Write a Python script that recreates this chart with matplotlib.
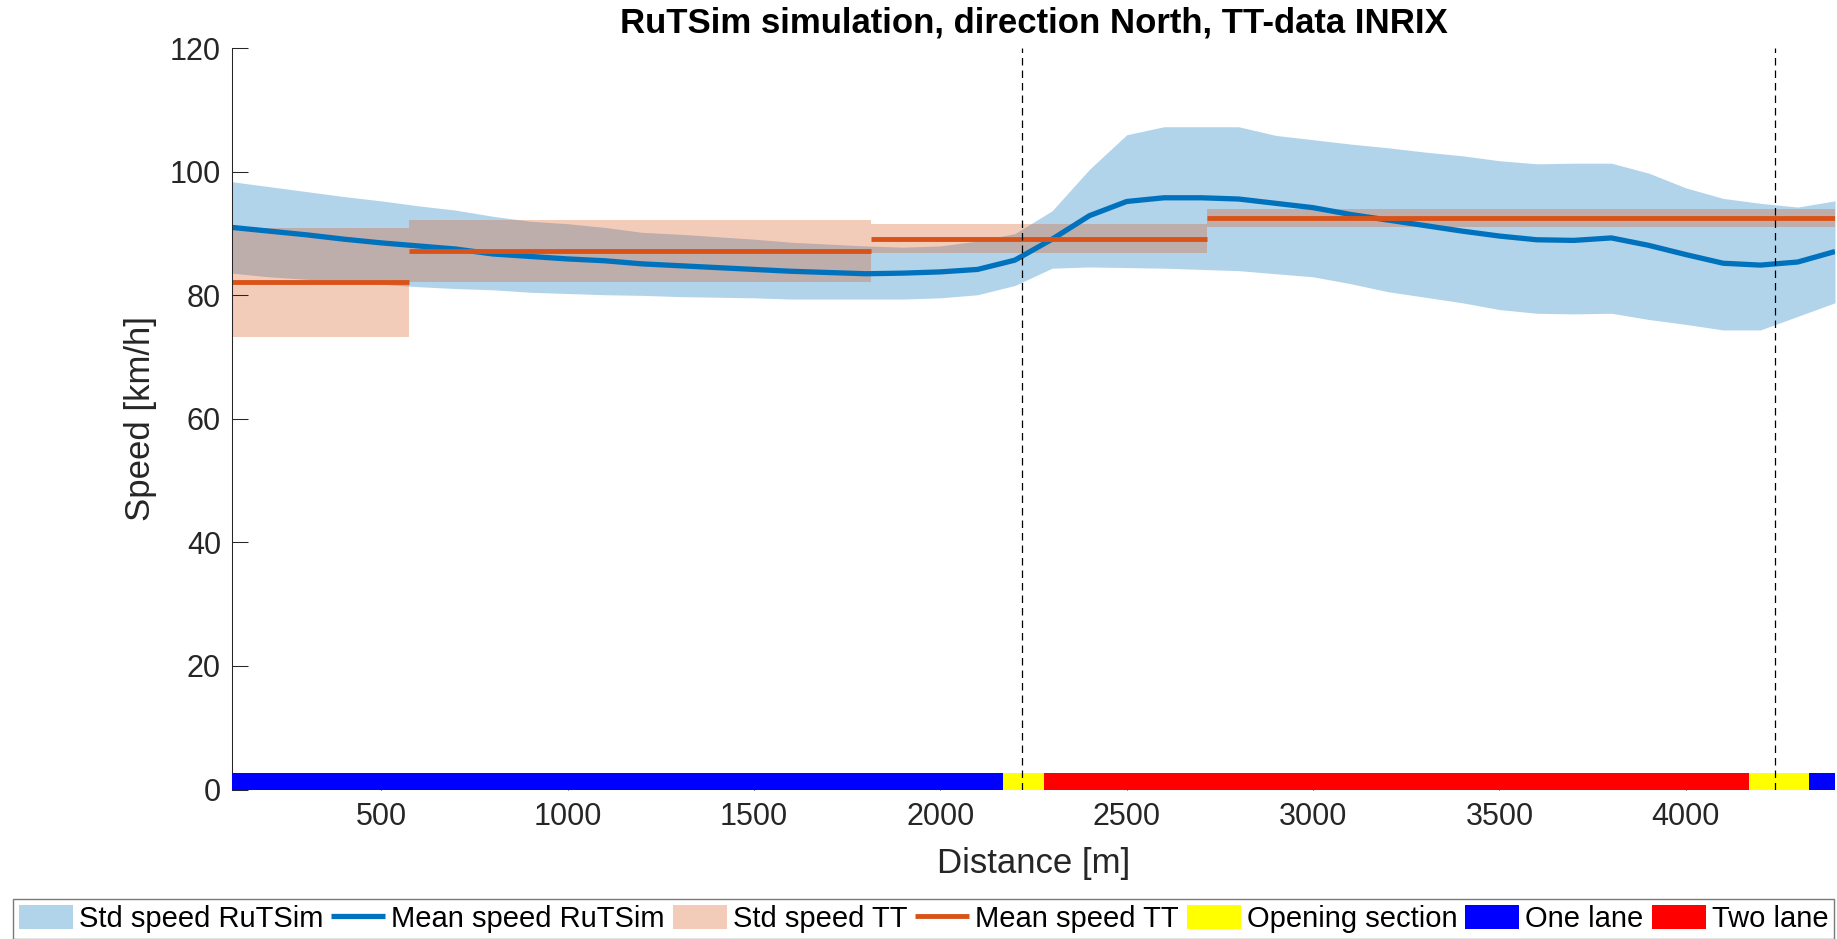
import matplotlib
matplotlib.use("Agg")
import matplotlib.pyplot as plt
from matplotlib.patches import Patch

plt.rcParams['font.family'] = ['Liberation Sans', 'DejaVu Sans']

# RuTSim output along the road (distance in m, speed in km/h)
dist_sim = [100, 200, 300, 400, 500, 600, 700, 800, 900, 1000, 1100,
            1200, 1300, 1400, 1500, 1600, 1700, 1800, 1900, 2000, 2100,
            2200, 2300, 2400, 2500, 2600, 2700, 2800, 2900, 3000, 3100,
            3200, 3300, 3400, 3500, 3600, 3700, 3800, 3900, 4000, 4100,
            4200, 4300, 4400]
mean_sim = [91.0, 90.4, 89.8, 89.1, 88.5, 88.0, 87.5, 86.7, 86.3, 85.9, 85.6,
            85.1, 84.8, 84.5, 84.2, 83.9, 83.7, 83.5, 83.6, 83.8, 84.2,
            85.7, 89.1, 92.9, 95.2, 95.8, 95.8, 95.6, 94.9, 94.2, 93.1,
            92.2, 91.3, 90.4, 89.6, 89.0, 88.9, 89.3, 88.1, 86.6, 85.2,
            84.9, 85.4, 87.1]
upper_sim = [98.4, 97.6, 96.8, 96.0, 95.3, 94.5, 93.8, 92.8, 92.0, 91.6, 91.0,
             90.2, 89.9, 89.5, 89.1, 88.6, 88.3, 88.0, 87.8, 88.0, 88.8,
             90.0, 93.7, 100.4, 106.0, 107.3, 107.3, 107.3, 105.9, 105.2, 104.5,
             103.9, 103.2, 102.6, 101.8, 101.3, 101.4, 101.4, 99.8, 97.4, 95.7,
             94.9, 94.3, 95.3]
lower_sim = [83.6, 83.0, 82.6, 82.2, 81.8, 81.4, 81.1, 80.9, 80.5, 80.3, 80.1,
             80.0, 79.8, 79.7, 79.6, 79.4, 79.4, 79.4, 79.4, 79.6, 80.1,
             81.6, 84.4, 84.6, 84.5, 84.4, 84.2, 84.0, 83.5, 83.0, 81.9,
             80.6, 79.7, 78.8, 77.7, 77.1, 77.0, 77.1, 76.1, 75.3, 74.4,
             74.4, 76.6, 78.8]

# travel-time data (INRIX) per segment
tt_start = [100, 575, 1815, 2715]
tt_end = [575, 1815, 2715, 4400]
tt_mean = [82.1, 87.2, 89.2, 92.5]
tt_std = [8.8, 5.0, 2.35, 1.5]

# road layout
lane_start = [100, 2167, 2277, 4169, 4330]
lane_end = [2167, 2277, 4169, 4330, 4400]
lane_type = ['One lane', 'Opening section', 'Two lane', 'Opening section', 'One lane']
lane_color = {'Opening section': '#FFFF00', 'One lane': '#0000FF', 'Two lane': '#FF0000'}

opening_marks = [2220, 4240]

BLUE = '#0072BD'
ORANGE = '#D95319'
AXCOL = '#262626'

fig = plt.figure(figsize=(18.37, 9.39), dpi=100)
ax = fig.add_axes([232 / 1837, 1 - 789.5 / 939, (1835 - 232) / 1837, (789.5 - 48.3) / 939])

h_std_sim = ax.fill_between(dist_sim, lower_sim, upper_sim, color=BLUE, alpha=0.3, lw=0)
h_mean_sim, = ax.plot(dist_sim, mean_sim, color=BLUE, lw=3.8, solid_capstyle='butt')

for x0, x1, m, s in zip(tt_start, tt_end, tt_mean, tt_std):
    h_std_tt = ax.fill_between([x0, x1], m - s, m + s, color=ORANGE, alpha=0.3, lw=0)
for x0, x1, m in zip(tt_start, tt_end, tt_mean):
    h_mean_tt, = ax.plot([x0, x1], [m, m], color=ORANGE, lw=3.5, solid_capstyle='butt')

# lane bar along the bottom
for x0, x1, kind in zip(lane_start, lane_end, lane_type):
    ax.bar(x0, 2.7, width=x1 - x0, bottom=0, align='edge', color=lane_color[kind],
           lw=0, clip_on=False, zorder=4)

for x in opening_marks:
    ax.axvline(x, color='k', lw=0.9, ls=(0, (6, 4)), zorder=5)

ax.set_xlim(100, 4400)
ax.set_ylim(0, 120)
ax.set_xticks([500, 1000, 1500, 2000, 2500, 3000, 3500, 4000])
ax.set_yticks([0, 20, 40, 60, 80, 100, 120])
for side in ['top', 'right', 'bottom']:
    ax.spines[side].set_visible(False)
ax.spines['left'].set_color(AXCOL)
ax.spines['left'].set_linewidth(0.75)
ax.tick_params(direction='in', length=11.5, width=0.75, colors=AXCOL, labelsize=22)
ax.tick_params(axis='x', pad=9)
ax.tick_params(axis='y', pad=8)

ax.set_xlabel('Distance [m]', fontsize=25, color=AXCOL, va='center')
ax.xaxis.set_label_coords(0.5, -0.0992)
ax.set_ylabel('Speed [km/h]', fontsize=25, color=AXCOL, va='center', ha='center')
ax.yaxis.set_label_coords(-0.0568, 0.5)
ax.text(0.5, 1.0335, 'RuTSim simulation, direction North, TT-data INRIX',
        transform=ax.transAxes, ha='center', va='center', fontsize=25, fontweight='bold')

handles = [h_std_sim, h_mean_sim, h_std_tt, h_mean_tt,
           Patch(facecolor=lane_color['Opening section']),
           Patch(facecolor=lane_color['One lane']),
           Patch(facecolor=lane_color['Two lane'])]
labels = ['Std speed RuTSim', 'Mean speed RuTSim', 'Std speed TT', 'Mean speed TT',
          'Opening section', 'One lane', 'Two lane']
leg = fig.legend(handles, labels, loc='upper left', ncol=7, mode='expand',
                 bbox_to_anchor=(13 / 1837, 0, 1821 / 1837, 1 - 899 / 939),
                 borderaxespad=0, fontsize=21, fancybox=False, framealpha=1,
                 edgecolor='#7a7a7a', handlelength=1.85, handleheight=0.92,
                 handletextpad=0.2, borderpad=0.2)
leg.get_frame().set_linewidth(1.0)

fig.savefig('out.png', dpi=100)
